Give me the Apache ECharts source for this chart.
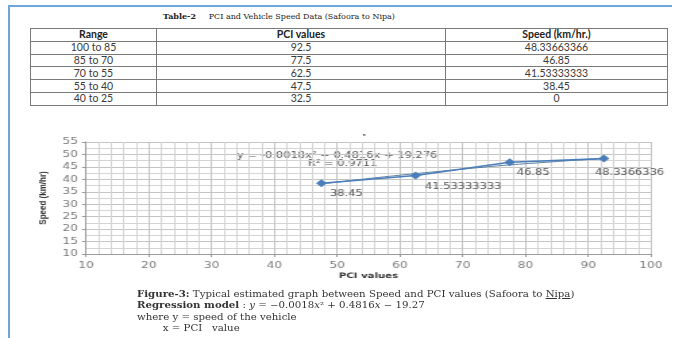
<!DOCTYPE html>
<html><head><meta charset="utf-8">
<script src="https://cdn.jsdelivr.net/npm/echarts@6/dist/echarts.min.js"></script>
<style>
html,body{margin:0;padding:0;background:#fff;}
#wrap{position:relative;width:680px;height:338px;overflow:hidden;background:#fff;}
#chart{position:absolute;left:0;top:0;width:504px;height:338px;transform:scaleX(1.35);transform-origin:0 0;}
.frameTop{position:absolute;left:8px;top:5px;width:664px;height:2px;background:#6fa6dc;}
.frameLeft{position:absolute;left:8px;top:5px;width:2px;height:333px;background:#6fa6dc;}
#title{position:absolute;left:163px;top:11px;font-family:'DejaVu Serif',serif;font-size:8px;color:#222;white-space:pre;}
table{position:absolute;left:30px;top:28px;border-collapse:collapse;font-family:Lato,'Open Sans',sans-serif;font-size:10.5px;color:#3a3a3a;}
td,th{border:1px solid #7a7a7a;padding:0;height:11.8px;line-height:11px;text-align:center;}
th{font-weight:bold;color:#222;}
#caption{position:absolute;left:137px;top:289px;font-family:'DejaVu Serif',serif;font-size:8.5px;color:#333;line-height:11.3px;white-space:pre;transform:scaleX(1.2);transform-origin:0 0;}
.ind{display:inline-block;width:21.5px;}
</style></head>
<body><div id="wrap">
<div class="frameTop"></div><div class="frameLeft"></div>
<div id="title"></div>
<table id="tbl"></table>
<div id="chart"></div>
<div id="caption"><b>Figure-3:</b> Typical estimated graph between Speed and PCI values (Safoora to <u>Nipa</u>)
<b>Regression model</b> : <i>y</i> = −0.0018<i>x</i>² + 0.4816<i>x</i> − 19.27
where y = speed of the vehicle
<span class="ind"></span>x = PCI   value</div>
</div>
<script>
// ---- table data ----
const tableTitle = 'Table-2';
const tableSubtitle = 'PCI and Vehicle Speed Data (Safoora to Nipa)';
const tableHeaders = ['Range', 'PCI values', 'Speed (km/hr.)'];
const ranges = ['100 to 85', '85 to 70', '70 to 55', '55 to 40', '40 to 25'];
const pciValues = ['92.5', '77.5', '62.5', '47.5', '32.5'];
const speedValues = ['48.33663366', '46.85', '41.53333333', '38.45', '0'];

// ---- chart data ----
const chartPci = [47.5, 62.5, 77.5, 92.5];
const chartSpeed = [38.45, 41.53333333, 46.85, 48.33663366];
const pointLabels = ['38.45', '41.53333333', '46.85', '48.3366336'];
// polynomial trendline
const trendPci = [47.5, 52.5, 57.5, 62.5, 67.5, 72.5, 77.5, 82.5, 87.5, 92.5];
const trendSpeed = [38.1, 39.6, 41.0, 42.3, 43.5, 44.7, 45.8, 46.7, 47.6, 48.4];
const trendEquation = 'y = -0.0018x² + 0.4816x + 19.276';
const trendR2 = 'R² = 0.9711';
const xName = 'PCI values';
const yName = 'Speed (km/hr)';

document.getElementById('title').innerHTML = '<b>' + tableTitle + '</b>     ' + tableSubtitle;
const colW = [125, 288, 221];
let html = '<tr>' + tableHeaders.map((h, i) => '<th style="width:' + colW[i] + 'px">' + h + '</th>').join('') + '</tr>';
for (let i = 0; i < ranges.length; i++) {
  html += '<tr><td>' + ranges[i] + '</td><td>' + pciValues[i] + '</td><td>' + speedValues[i] + '</td></tr>';
}
document.getElementById('tbl').innerHTML = html;

const labelPos = [[10.3, 15], [10.9, 15], [9.2, 15], [-2.7, 18.5]];
const mainData = chartPci.map((x, i) => ({
  value: [x, chartSpeed[i]],
  label: { show: true, formatter: pointLabels[i], position: labelPos[i],
    align: 'left', verticalAlign: 'middle' }
}));

const chart = echarts.init(document.getElementById('chart'), null, { renderer: 'canvas' });
const axisFont = { fontFamily: 'DejaVu Sans', fontSize: 9, color: '#7a7a7a' };
chart.setOption({
  animation: false,
  backgroundColor: 'transparent',
  grid: { left: 63.7, right: 21.8, top: 142, bottom: 84, containLabel: false },
  xAxis: {
    type: 'value', min: 10, max: 100, interval: 10,
    name: xName, nameLocation: 'middle', nameGap: 18,
    nameTextStyle: { fontFamily: 'DejaVu Sans', fontWeight: 'bold', fontSize: 7.5, color: '#333' },
    axisLine: { show: true, lineStyle: { color: '#9a9a9a', width: 1 } },
    axisTick: { show: true, length: 3, lineStyle: { color: '#9a9a9a' } },
    axisLabel: Object.assign({ margin: 7 }, axisFont),
    splitLine: { show: true, lineStyle: { color: '#c4c4c4', width: 1 } },
    minorTick: { show: false, splitNumber: 5 },
    minorSplitLine: { show: true, lineStyle: { color: '#d4d4d4', width: 1 } }
  },
  yAxis: {
    type: 'value', min: 10, max: 55, interval: 5,
    name: yName, nameLocation: 'middle', nameGap: 23, nameRotate: 90,
    nameTextStyle: { fontFamily: "'Liberation Sans Narrow','Liberation Sans'", fontWeight: 'bold', fontSize: 8, color: '#333' },
    axisLine: { show: true, lineStyle: { color: '#9a9a9a', width: 1 } },
    axisTick: { show: true, length: 3, lineStyle: { color: '#9a9a9a' } },
    axisLabel: Object.assign({ margin: 6 }, axisFont),
    splitLine: { show: true, lineStyle: { color: '#c4c4c4', width: 1 } },
    minorTick: { show: false, splitNumber: 2 },
    minorSplitLine: { show: true, lineStyle: { color: '#d4d4d4', width: 1 } }
  },
  series: [
    {
      type: 'line', data: trendPci.map((x, i) => [x, trendSpeed[i]]), smooth: true,
      showSymbol: false, symbol: 'none', z: 2,
      lineStyle: { color: '#5d7d9e', width: 1 }
    },
    {
      type: 'line', data: mainData, symbol: 'diamond', symbolSize: 8, z: 3,
      itemStyle: { color: '#4a7ebb' },
      lineStyle: { color: '#4a7ebb', width: 1.6 },
      label: { fontFamily: 'DejaVu Sans', fontSize: 8.5, color: '#555' }
    }
  ],
  graphic: [
    { type: 'text', left: 175.6, top: 151, style: { text: trendEquation, fontFamily: 'DejaVu Sans', fontSize: 8.5, fill: '#555' } },
    { type: 'text', left: 228, top: 159, style: { text: trendR2, fontFamily: 'DejaVu Sans', fontSize: 8.5, fill: '#555' } },
    { type: 'text', left: 268, top: 132, style: { text: '•', fontFamily: 'DejaVu Sans', fontSize: 6, fill: '#444' } }
  ]
});
</script>
</body></html>
